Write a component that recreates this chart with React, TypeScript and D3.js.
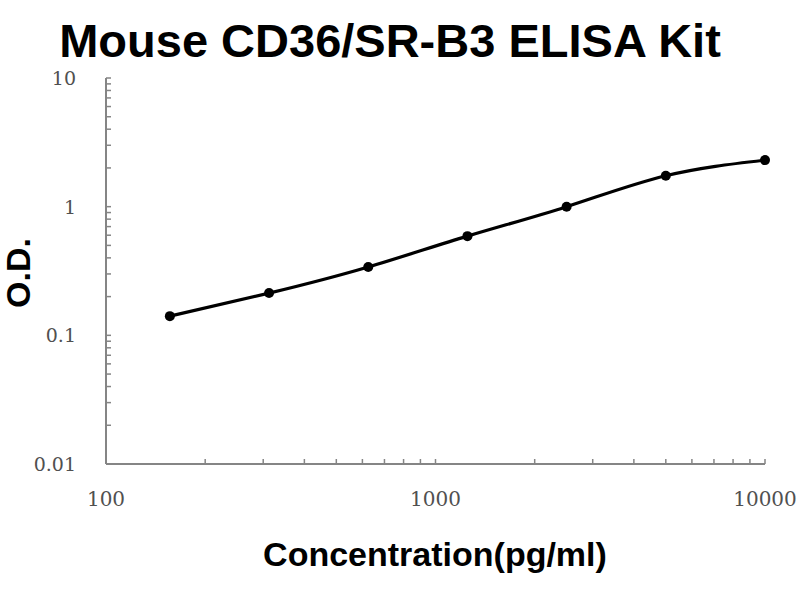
import React from "react";
import * as d3 from "d3";

const concentrations = [156.25, 312.5, 625, 1250, 2500, 5000, 10000];
const odValues = [0.141, 0.213, 0.34, 0.59, 1.0, 1.74, 2.3];
const xTickValues = [100, 1000, 10000];
const yTickValues = [0.01, 0.1, 1, 10];
const xTickLabels = ["100", "1000", "10000"];
const yTickLabels = ["0.01", "0.1", "1", "10"];

const W = 800;
const H = 600;
const left = 106;
const right = 765;
const top = 78;
const bottom = 464;

export default function App() {
  const x = d3.scaleLog().domain([100, 10000]).range([left, right]);
  const y = d3.scaleLog().domain([0.01, 10]).range([bottom, top]);

  const pts: [number, number][] = concentrations.map((c, i) => [x(c), y(odValues[i])]);
  const line = d3.line().curve(d3.curveNatural)(pts) || "";

  const minorX: number[] = [];
  [100, 1000].forEach((d) => {
    for (let k = 2; k <= 10; k++) minorX.push(d * k);
  });
  const minorY: number[] = [];
  [0.01, 0.1, 1].forEach((d) => {
    for (let k = 2; k <= 10; k++) minorY.push(d * k);
  });

  const axisColor = "#858585";
  const tickFont = "'DejaVu Serif', serif";
  const sans = "'Liberation Sans', Arial, sans-serif";

  return (
    <svg
      width={W}
      height={H}
      style={{ position: "absolute", left: 0, top: 0, background: "#fff" }}
    >
      <text
        x={390}
        y={57}
        textAnchor="middle"
        fontFamily={sans}
        fontWeight="bold"
        fontSize={47}
        fill="#000"
      >
        Mouse CD36/SR-B3 ELISA Kit
      </text>

      <line x1={left} x2={left} y1={top} y2={bottom} stroke={axisColor} strokeWidth={2} />
      <line x1={left} x2={right} y1={bottom} y2={bottom} stroke={axisColor} strokeWidth={2} />

      {minorY.map((v, i) => (
        <line key={"my" + i} x1={left} x2={left + 5} y1={y(v)} y2={y(v)} stroke={axisColor} strokeWidth={1.5} />
      ))}
      {minorX.map((v, i) => (
        <line key={"mx" + i} x1={x(v)} x2={x(v)} y1={bottom} y2={bottom - 5} stroke={axisColor} strokeWidth={1.5} />
      ))}

      {yTickValues.map((v, i) => (
        <text
          key={"yt" + i}
          x={76}
          y={y(v) + 7}
          textAnchor="end"
          fontFamily={tickFont}
          fontSize={19}
          fill="#505050"
        >
          {yTickLabels[i]}
        </text>
      ))}
      {xTickValues.map((v, i) => (
        <text
          key={"xt" + i}
          x={x(v)}
          y={506}
          textAnchor="middle"
          fontFamily={tickFont}
          fontSize={20}
          fill="#505050"
        >
          {xTickLabels[i]}
        </text>
      ))}

      <path d={line} fill="none" stroke="#000" strokeWidth={3.2} />
      {pts.map((p, i) => (
        <circle key={"p" + i} cx={p[0]} cy={p[1]} r={5} fill="#000" />
      ))}

      <text
        x={435}
        y={566}
        textAnchor="middle"
        fontFamily={sans}
        fontWeight="bold"
        fontSize={34}
        fill="#000"
      >
        Concentration(pg/ml)
      </text>
      <text
        transform={`translate(30, 273) rotate(-90)`}
        textAnchor="middle"
        fontFamily={sans}
        fontWeight="bold"
        fontSize={34}
        fill="#000"
      >
        O.D.
      </text>
    </svg>
  );
}
